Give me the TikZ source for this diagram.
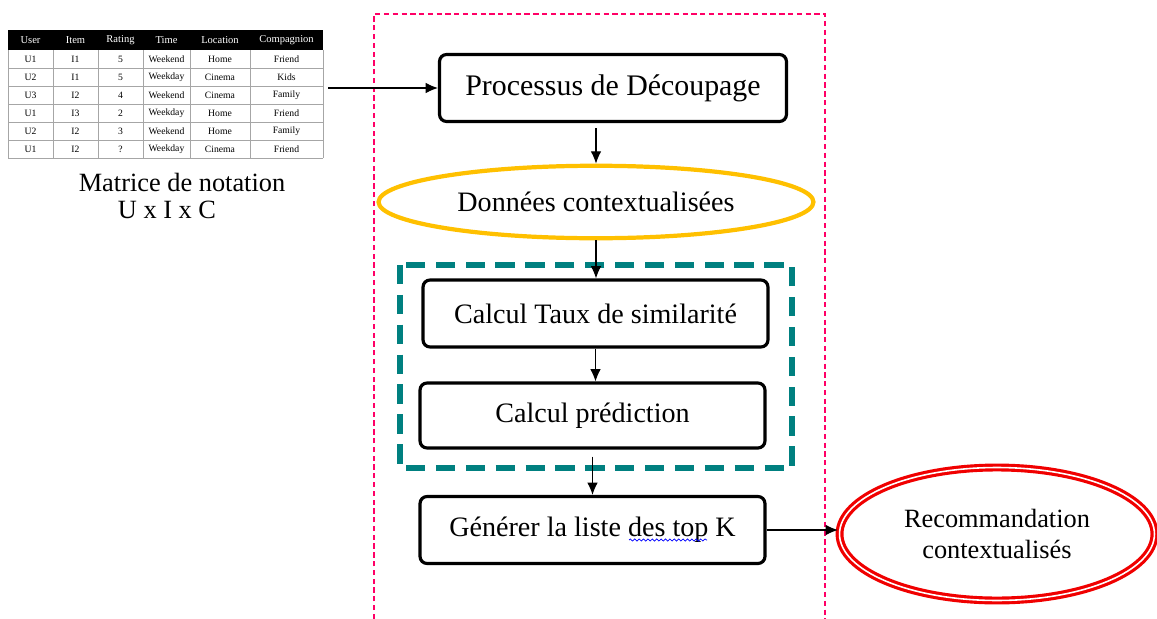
\documentclass[tikz,border=0pt]{standalone}
\usepackage{fontspec}
\setmainfont{Liberation Serif}
\usetikzlibrary{arrows.meta,shapes.geometric,decorations.pathmorphing}
\definecolor{pinkline}{RGB}{255,0,102}
\definecolor{tealline}{RGB}{0,128,128}
\definecolor{orangeline}{RGB}{255,192,0}
\definecolor{redline}{RGB}{240,0,0}
\tikzset{
  etape/.style={draw, line width=1.8pt, rounded corners=4pt, minimum width=6.9cm, minimum height=1.34cm, font=\fontsize{16}{19}\selectfont},
  fleche/.style={-{Latex[length=7pt,width=6pt]}, line width=0.6pt},
  cell/.style={font=\fontsize{5.5}{6}\selectfont, inner sep=0pt},
  legende/.style={font=\fontsize{15}{18}\selectfont, inner sep=0pt},
}
\begin{document}
\begin{tikzpicture}[x=0.02cm,y=-0.02cm]
    \useasboundingbox (0,0) rectangle (1157,619);
    % matrice U x I x C
    \fill (8,30) rectangle (323,50);
    \foreach \y in {68,86,104,122,140,158}
        \draw[gray!70, line width=0.5pt] (8,\y) -- (323,\y);
    \foreach \x in {8,53,98,143,190,250,323}
        \draw[gray!70, line width=0.5pt] (\x,50) -- (\x,158);
    \foreach \x/\t [count=\i] in {30.5/User,75.5/Item,120.5/Rating,166.5/Time,220/Location,286.5/Compagnion}
        \node[cell, text=white, font=\fontsize{6}{7}\selectfont] (h\i) at (\x,40) {\t};
    \foreach \y/\a/\b/\c/\d/\e/\f [count=\j] in {
        59/U1/I1/5/Weekend/Home/Friend,
        77/U2/I1/5/Weekday/Cinema/Kids,
        95/U3/I2/4/Weekend/Cinema/Family,
        113/U1/I3/2/Weekday/Home/Friend,
        131/U2/I2/3/Weekend/Home/Family,
        149/U1/I2/?/Weekday/Cinema/Friend}{
        \node[cell] (r\j a) at (30.5,\y) {\a};
        \node[cell] (r\j b) at (75.5,\y) {\b};
        \node[cell] (r\j c) at (120.5,\y) {\c};
        \node[cell] (r\j d) at (166.5,\y) {\d};
        \node[cell] (r\j e) at (220,\y) {\e};
        \node[cell] (r\j f) at (286.5,\y) {\f};
    }
    \coordinate (matout) at (328,88);
    \node[legende] (mat) at (182,182) {Matrice de notation};
    \node[legende] (uic) at (167,210) {U x I x C};

    % cadre du processus
    \draw[pinkline, line width=0.7pt, dash pattern=on 3pt off 2pt] (374,619) -- (374,14) -- (825,14) -- (825,619);

    % etapes
    \node[etape, minimum width=6.94cm, font=\fontsize{17}{20}\selectfont] (dec) at (613,88) {Processus de Découpage};
    \node[ellipse, draw=orangeline, line width=2.4pt, minimum width=8.7cm, minimum height=1.45cm, font=\fontsize{16}{19}\selectfont] (don) at (596,202) {Données contextualisées};
    \node[etape] (sim) at (595.5,313.5) {Calcul Taux de similarité};
    \node[etape, minimum height=1.3cm] (pred) at (592.5,415.5) {Calcul prédiction};
    \node[etape] (top) at (592.5,530) {Générer la liste des top K};
    \node[ellipse, draw=redline, line width=1.8pt, double=white, double distance=0.9pt, minimum width=6.3cm, minimum height=2.66cm, align=center, font=\fontsize{15}{18}\selectfont] (rec) at (997,534) {Recommandation\\contextualisés};

    \draw[tealline, line width=3pt, dash pattern=on 11pt off 6pt] (400,265) rectangle (792,468);
    \draw[blue, line width=0.4pt, decorate, decoration={snake, amplitude=0.6pt, segment length=2.5pt}] (629,540) -- (707,540);

    % fleches
    \draw[fleche] (matout) -- (dec.west);
    \draw[fleche, shorten <=3pt] (dec.south -| don.north) -- (don.north);
    \draw[fleche] (don.south) -- (don.south |- sim.north);
    \draw[fleche] (sim.south) -- (sim.south |- pred.north);
    \draw[fleche, shorten <=4pt] (pred.south) -- (top.north);
    \draw[fleche] (top.east) -- (top.east -| rec.west);
\end{tikzpicture}
\end{document}
